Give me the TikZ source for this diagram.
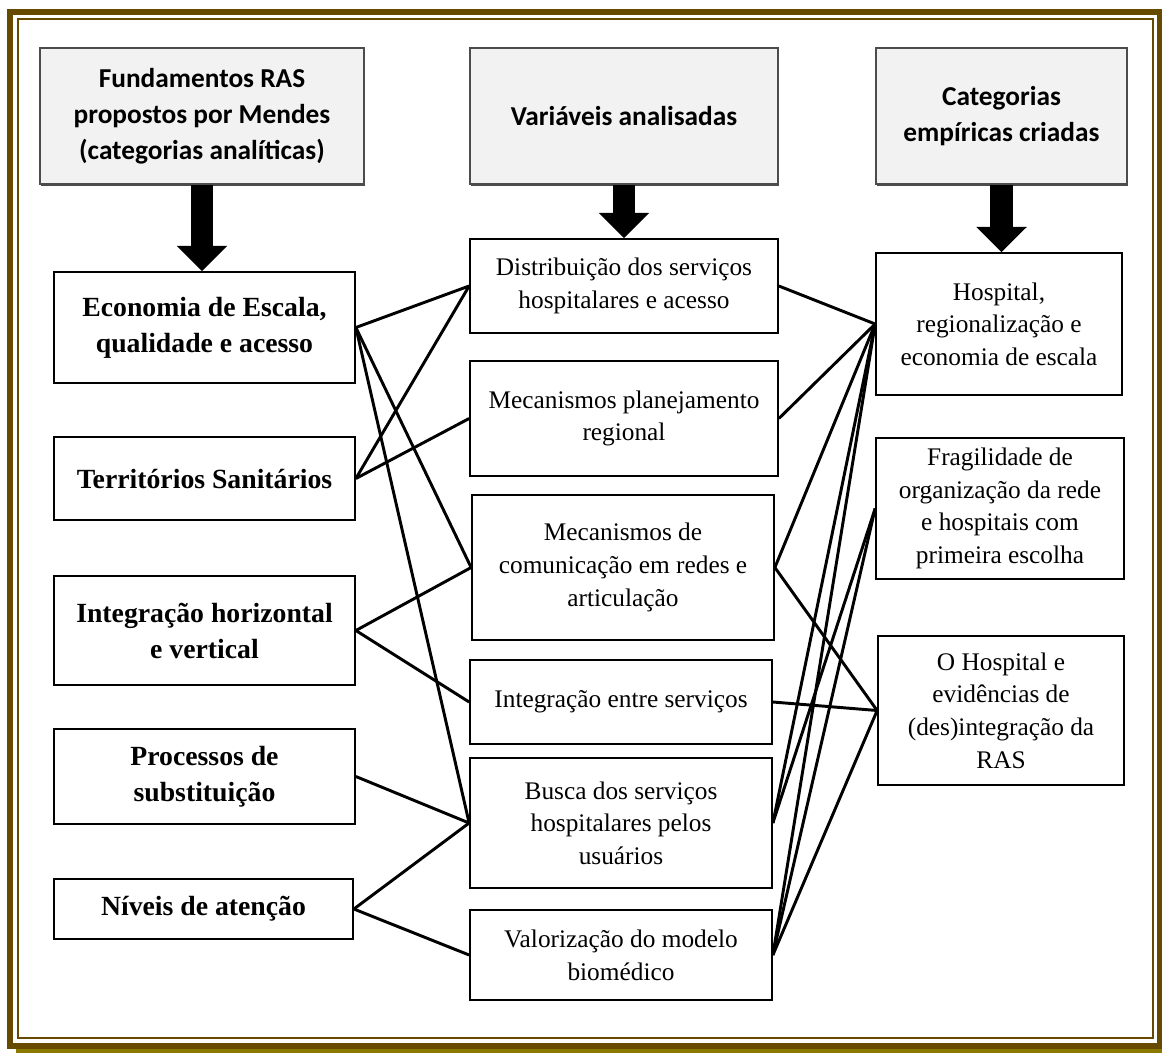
\documentclass[tikz,border=0pt]{standalone}
\usepackage{fontspec}
\setmainfont{Liberation Serif}
\newfontfamily\headfont{Carlito}
\usetikzlibrary{arrows.meta,shadows}
\definecolor{framebrown}{RGB}{102,74,0}
\definecolor{frameolive}{RGB}{138,120,0}

\begin{document}
\begin{tikzpicture}[x=0.75pt,y=-0.75pt,
                head/.style={draw=black!70,fill=black!5,line width=0.8pt,align=center,
                    font=\headfont\bfseries\fontsize{20.5}{27}\selectfont,
                    drop shadow={shadow xshift=0.6pt,shadow yshift=-1.2pt,fill=black,opacity=0.7}},
                fund/.style={draw,fill=white,line width=1.3pt,align=center,
                    font=\bfseries\fontsize{20.8}{27}\selectfont,
                    drop shadow={shadow xshift=0.4pt,shadow yshift=-1pt,fill=black,opacity=0.6}},
                var/.style={draw,fill=white,line width=1.3pt,align=center,
                    font=\fontsize{19}{24.5}\selectfont,
                    drop shadow={shadow xshift=0.4pt,shadow yshift=-1pt,fill=black,opacity=0.6}},
                bigarrow/.style={line width=17pt,-{Triangle[length=19pt,width=37pt]}},
                link/.style={line width=2.2pt}]
                \useasboundingbox (0,0) rectangle (1162,1053);
                % moldura
                \draw[frameolive,line width=4pt] (16,1050.5) -- (1164,1050.5);
                \draw[framebrown,line width=4.5pt] (10,11.5) rectangle (1159.5,1045.5);
                \draw[framebrown,line width=1.5pt] (18,19) rectangle (1153,1038);
                % cabecalhos
                \node[head,minimum width=243pt,minimum height=102pt] (H1) at (202,116)
                    {Fundamentos RAS\\propostos por Mendes\\(categorias analíticas)};
                \node[head,minimum width=231pt,minimum height=102pt] (H2) at (624,116)
                    {Variáveis analisadas};
                \node[head,minimum width=188.25pt,minimum height=102pt] (H3) at (1001.5,116)
                    {Categorias\\empíricas criadas};
                % fundamentos
                \node[fund,minimum width=225.75pt,minimum height=83.25pt] (L1) at (204.5,327.5)
                    {Economia de Escala,\\qualidade e acesso};
                \node[fund,minimum width=225.75pt,minimum height=62.25pt] (L2) at (204.5,478.5)
                    {Territórios Sanitários};
                \node[fund,minimum width=225.75pt,minimum height=81.75pt] (L3) at (204.5,630.5)
                    {Integração horizontal\\e vertical};
                \node[fund,minimum width=225.75pt,minimum height=71.25pt] (L4) at (204.5,776.5)
                    {Processos de\\substituição};
                \node[fund,minimum width=224.25pt,minimum height=45pt] (L5) at (203.5,909)
                    {Níveis de atenção};
                % variaveis
                \node[var,minimum width=231pt,minimum height=70.5pt] (M1) at (624,286)
                    {Distribuição dos serviços\\hospitalares e acesso};
                \node[var,minimum width=231pt,minimum height=86.25pt] (M2) at (624,418.5)
                    {Mecanismos planejamento\\regional};
                \node[var,minimum width=226.5pt,minimum height=108.75pt] (M3) at (623,567.5)
                    {Mecanismos de\\comunicação em redes e\\articulação};
                \node[var,minimum width=226.5pt,minimum height=63pt] (M4) at (621,702)
                    {Integração entre serviços};
                \node[var,minimum width=226.5pt,minimum height=97.5pt] (M5) at (621,823)
                    {Busca dos serviços\\hospitalares pelos\\usuários};
                \node[var,minimum width=226.5pt,minimum height=67.5pt] (M6) at (621,955)
                    {Valorização do modelo\\biomédico};
                % categorias
                \node[var,minimum width=184.5pt,minimum height=106.5pt] (R1) at (999,324)
                    {Hospital,\\regionalização e\\economia de escala};
                \node[var,minimum width=186pt,minimum height=105.75pt] (R2) at (1000,508.5)
                    {Fragilidade de\\organização da rede\\e hospitais com\\primeira escolha};
                \node[var,minimum width=184.5pt,minimum height=111.75pt] (R3) at (1001,710.5)
                    {O Hospital e\\evidências de\\(des)integração da\\RAS};
                % setas
                \draw[bigarrow] (H1.south) -- (H1.south |- L1.north);
                \draw[bigarrow] (H2.south) -- (H2.south |- M1.north);
                \draw[bigarrow] (H3.south) -- (H3.south |- R1.north);
                % ligacoes
                \draw[link] (L1.east) -- (M1.west);
                \draw[link] (L1.east) -- (M3.west);
                \draw[link] (L1.east) -- (M5.west);
                \draw[link] (L2.east) -- (M1.west);
                \draw[link] (L2.east) -- (M2.west);
                \draw[link] (L3.east) -- (M3.west);
                \draw[link] (L3.east) -- (M4.west);
                \draw[link] (L4.east) -- (M5.west);
                \draw[link] (L5.east) -- (M5.west);
                \draw[link] (L5.east) -- (M6.west);
                \draw[link] (M1.east) -- (R1.west);
                \draw[link] (M2.east) -- (R1.west);
                \draw[link] (M3.east) -- (R1.west);
                \draw[link] (M3.east) -- (R3.west);
                \draw[link] (M4.east) -- (R3.west);
                \draw[link] (M5.east) -- (R1.west);
                \draw[link] (M5.east) -- (R2.west);
                \draw[link] (M6.east) -- (R1.west);
                \draw[link] (M6.east) -- (R2.west);
                \draw[link] (M6.east) -- (R3.west);
\end{tikzpicture}
\end{document}
